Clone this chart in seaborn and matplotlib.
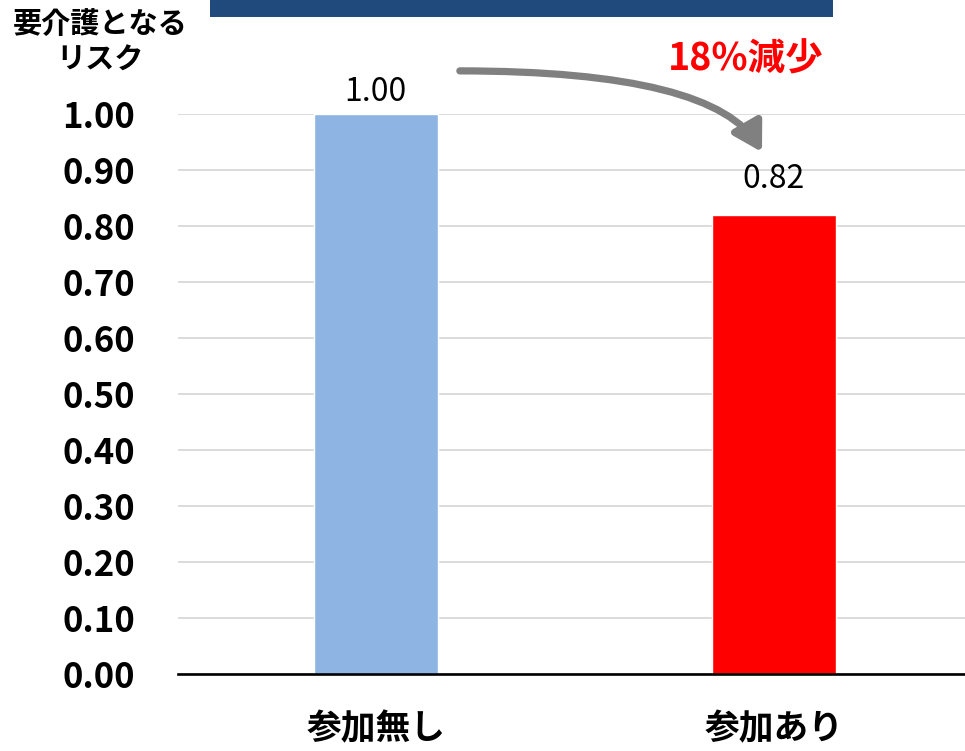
import matplotlib
matplotlib.use("Agg")
import matplotlib.pyplot as plt
from matplotlib.patches import FancyArrowPatch, Rectangle
import seaborn as sns
import pandas as pd

# Data
categories = ["参加無し", "参加あり"]
risk = [1.00, 0.82]
bar_colors = ["#8EB4E3", "#FF0000"]
yticks = [0.0, 0.1, 0.2, 0.3, 0.4, 0.5, 0.6, 0.7, 0.8, 0.9, 1.0]
reduction_label = "18%減少"
ylabel_text = "要介護となる\nリスク"

sns.set_theme(style="white")
plt.rcParams["font.family"] = ["Noto Sans CJK JP", "DejaVu Sans"]
plt.rcParams["text.color"] = "black"
plt.rcParams["xtick.color"] = "black"
plt.rcParams["ytick.color"] = "black"

df = pd.DataFrame({"group": categories, "risk": risk})

fig = plt.figure(figsize=(9.65, 7.51), dpi=100)
ax = fig.add_axes([178 / 965, 77 / 751, 787 / 965, 560 / 751])

sns.barplot(data=df, x="group", y="risk", hue="group", palette=bar_colors,
            width=0.31, legend=False, ax=ax, saturation=1)

ax.set_xlim(-0.497, 1.48)
ax.set_ylim(0, 1.0)
ax.set_yticks(yticks)
ax.set_yticklabels([f"{v:.2f}" for v in yticks], fontsize=25, fontweight="bold")
ax.tick_params(axis="y", length=0, pad=31)
ax.tick_params(axis="x", length=0, pad=27, labelsize=25)
for lbl in ax.get_xticklabels():
    lbl.set_fontweight("bold")
ax.set_xlabel("")
ax.set_ylabel("")

ax.yaxis.grid(True, color="#D9D9D9", linewidth=1.3)
ax.set_axisbelow(True)
for side in ["left", "right", "top"]:
    ax.spines[side].set_visible(False)
ax.spines["bottom"].set_color("black")
ax.spines["bottom"].set_linewidth(1.9)
ax.spines["bottom"].set_zorder(5)

# Value labels on bars (the second sits a little higher to clear the arrow)
label_offsets = [4, 14]
for i, v in enumerate(risk):
    ax.annotate(f"{v:.2f}", xy=(i, v), xytext=(0, label_offsets[i]),
                textcoords="offset points", ha="center", va="bottom",
                fontsize=23, color="black")

# Curved arrow from the first bar toward the second
arrow = FancyArrowPatch(posA=(0.211, 1.077), posB=(0.97, 0.932),
                        connectionstyle="angle3,angleA=0,angleB=120",
                        arrowstyle="-|>,head_length=17,head_width=10",
                        mutation_scale=1, color="#808080", linewidth=5.2,
                        shrinkA=0, shrinkB=0, transform=ax.transData,
                        clip_on=False, zorder=6)
ax.add_patch(arrow)

ax.text(0.929, 1.098, reduction_label, ha="center", va="center",
        fontsize=27, fontweight="bold", color="#FF0000", clip_on=False)

# Axis title at the top left
fig.text(100 / 965, 1 - 42 / 751, ylabel_text, ha="center", va="center",
         fontsize=21, fontweight="bold", linespacing=1.25)

# Header banner along the top edge
fig.patches.append(Rectangle((210 / 965, 1 - 17 / 751), 623 / 965, 17 / 751,
                             transform=fig.transFigure, facecolor="#1F4A7B",
                             edgecolor="none"))

fig.savefig("out.png", dpi=100)
